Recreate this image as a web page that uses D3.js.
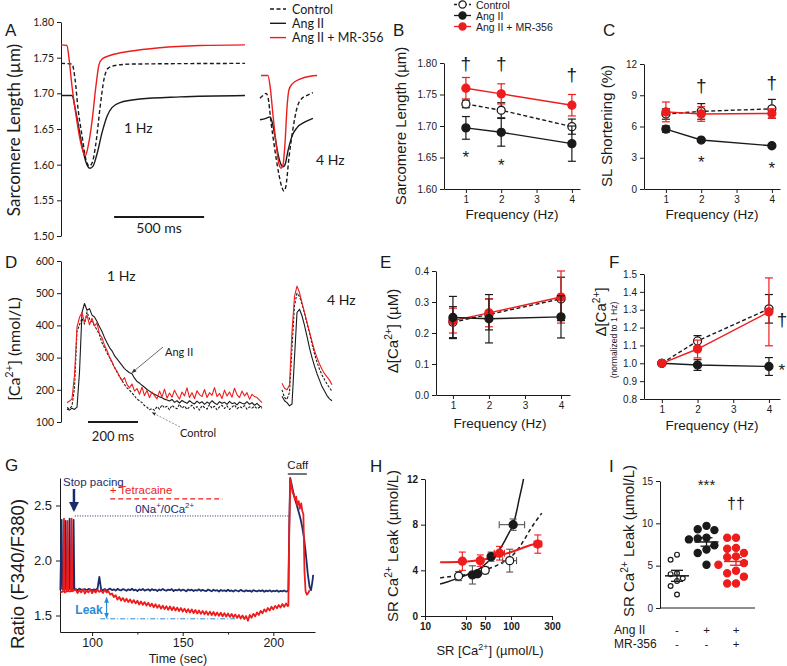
<!DOCTYPE html>
<html lang="en">
<head>
<meta charset="utf-8">
<title>Ang II / MR-356 figure</title>
<script src="https://cdn.jsdelivr.net/npm/d3@7"></script>
<style>
  body { margin: 0; background: #fff; }
  svg { font-family: "Liberation Sans", Arial, sans-serif; }
</style>
</head>
<body>
<script>
// ------------------------------------------------------------------
// data
// ------------------------------------------------------------------
var freqs = [1, 2, 4];
var freqTicks = [1, 2, 3, 4];

// A : sarcomere length traces [time ms, SL um]
var aCtrl1 = [[0,1.742],[61,1.741],[78,1.72],[94,1.68],[117,1.64],[139,1.607],[156,1.598],[172,1.602],[194,1.63],[217,1.68],[239,1.72],[261,1.735],[300,1.739],[383,1.741],[1022,1.742]];
var aAng1  = [[0,1.697],[61,1.697],[78,1.68],[100,1.65],[122,1.62],[144,1.60],[161,1.595],[178,1.598],[200,1.615],[228,1.645],[256,1.668],[283,1.68],[328,1.687],[439,1.692],[661,1.695],[1022,1.697]];
var aMR1   = [[0,1.768],[33,1.767],[44,1.75],[61,1.71],[83,1.67],[106,1.635],[128,1.615],[136,1.613],[150,1.625],[172,1.66],[194,1.71],[211,1.74],[228,1.748],[272,1.753],[383,1.759],[550,1.764],[772,1.767],[1022,1.768]];
var aCtrl4 = [[0,1.693],[22,1.698],[33,1.70],[44,1.695],[61,1.66],[83,1.62],[106,1.585],[122,1.568],[133,1.563],[144,1.57],[161,1.61],[183,1.65],[206,1.68],[233,1.693],[261,1.697],[294,1.701]];
var aAng4  = [[0,1.663],[33,1.665],[56,1.667],[67,1.66],[83,1.64],[100,1.615],[117,1.60],[128,1.597],[139,1.60],[156,1.62],[178,1.64],[206,1.652],[250,1.66],[294,1.665]];
var aMR4   = [[6,1.725],[44,1.725],[56,1.71],[72,1.67],[89,1.63],[106,1.60],[117,1.595],[128,1.60],[139,1.63],[150,1.68],[161,1.705],[178,1.713],[222,1.72],[278,1.724],[317,1.725]];
var aTicks = [1.50, 1.55, 1.60, 1.65, 1.70, 1.75, 1.80];

// B : diastolic sarcomere length (mean, sem)
var bCtrl = [1.735, 1.725, 1.699], bCtrlErr = [0.006, 0.012, 0.012];
var bAng  = [1.697, 1.690, 1.672], bAngErr  = [0.018, 0.022, 0.028];
var bMR   = [1.760, 1.751, 1.733], bMRErr   = [0.017, 0.016, 0.017];
var bTicks = [1.60, 1.65, 1.70, 1.75, 1.80];

// C : SL shortening (%)
var cCtrl = [7.2, 7.45, 7.7], cCtrlErr = [0.5, 0.75, 0.9];
var cAng  = [5.75, 4.7, 4.15], cAngErr = [0.3, 0.15, 0.15];
var cMR   = [7.4, 7.2, 7.25], cMRErr   = [0.95, 0.7, 0.45];
var cTicks = [0, 3, 6, 9, 12];

// D : calcium transients, nmol/L, one sample every 10 ms
var dStep = 10;
var dMR1 = [160,165,172,245,395,425,440,410,432,402, 422,398,408,372,362,338,322,302,288,268,
            258,242,228,238,216,206,218,196,204,186, 208,182,198,176,193,182,172,196,178,202,
            174,190,177,199,183,171,193,181,206,176, 191,173,197,185,179,201,176,191,183,207,
            179,189,173,199,181,193,177,205,185,176, 196,181,191,171,186,179,176,168,160];
var dAng1 = [140,137,143,139,146,255,440,468,447,452, 432,426,412,396,381,362,346,331,321,306,
             296,286,276,266,259,253,250,236,226,221, 214,208,201,196,190,186,182,178,175,171,
             168,165,170,161,166,159,167,162,158,166, 160,156,165,158,163,155,162,157,166,159,
             154,163,158,161,155,164,157,160,153,162, 158,156,163,155,160,152,158,150,146];
var dCtrl1 = [145,141,150,205,382,402,422,404,442,420, 412,399,386,371,346,331,314,301,284,271,
              255,241,229,216,206,199,190,181,171,166, 160,151,146,138,142,136,148,140,153,144,
              149,138,152,145,141,155,143,150,139,147, 152,141,148,137,151,145,140,154,143,149,
              138,147,152,142,150,139,146,153,141,148, 144,151,140,147,143,149,141,146,143];
var dMR4   = [220,205,200,215,380,490,522,502,470,440,410,380,350,322,300,280,264,250,240,230,216];
var dCtrl4 = [200,176,170,192,330,462,500,490,466,438,405,376,342,312,286,264,246,232,218,206,196];
var dAng4  = [180,166,160,150,156,300,440,450,430,400,366,330,300,274,250,230,210,196,182,172,166];
var dTicks = [100, 200, 300, 400, 500, 600];

// E : delta [Ca2+] (uM)
var eCtrl = [0.235, 0.26, 0.31], eCtrlErr = [0.05, 0.05, 0.07];
var eAng  = [0.25, 0.246, 0.252], eAngErr = [0.068, 0.078, 0.068];
var eMR   = [0.24, 0.265, 0.316], eMRErr  = [0.04, 0.045, 0.084];
var eTicks = [0.0, 0.1, 0.2, 0.3, 0.4];

// F : delta [Ca2+] normalised to 1 Hz
var fCtrl = [1.0, 1.125, 1.305], fCtrlErr = [0, 0.03, 0.08];
var fAng  = [1.0, 0.99, 0.982],  fAngErr  = [0, 0.03, 0.05];
var fMR   = [1.0, 1.08, 1.288],  fMRErr   = [0, 0.05, 0.19];
var fTicks = [0.8, 0.9, 1.0, 1.1, 1.2, 1.3, 1.4, 1.5];

// G : fura-2 ratio, pacing spikes, then 1 s samples from t=91 s, then caffeine
var gStart = 91;
var gBluePace = [[82.5,1.73],[83.2,2.37],[83.6,1.74],[85.0,1.74],[85.4,2.36],[85.8,1.74],[87.2,1.74],[87.6,2.38],[88.0,1.74],[89.4,1.74],[89.8,2.37],[90.2,1.74]];
var gRedPace  = [[82.5,1.71],[84.1,1.72],[84.5,2.38],[84.9,1.71],[86.1,1.72],[86.5,2.36],[86.9,1.72],[88.3,1.72],[88.7,2.38],[89.1,1.72]];
var gBlue = [1.74,1.73,1.745,1.735,1.73,1.74,1.728,1.742,1.735,1.73,
             1.738,1.732,1.745,1.85,1.735,1.73,1.742,1.728,1.737,1.745,
             1.73,1.738,1.726,1.742,1.733,1.728,1.74,1.735,1.725,1.738,
             1.73,1.743,1.728,1.735,1.722,1.738,1.73,1.742,1.727,1.733,
             1.738,1.725,1.74,1.73,1.735,1.722,1.737,1.728,1.742,1.73,
             1.725,1.736,1.73,1.74,1.722,1.733,1.728,1.738,1.725,1.735,
             1.73,1.72,1.737,1.728,1.735,1.722,1.732,1.726,1.738,1.724,
             1.733,1.727,1.722,1.736,1.728,1.72,1.735,1.725,1.73,1.718,
             1.732,1.724,1.729,1.72,1.734,1.722,1.728,1.718,1.731,1.725,
             1.72,1.733,1.724,1.718,1.73,1.722,1.727,1.716,1.731,1.723,
             1.719,1.728,1.722,1.73,1.716,1.726,1.72,1.729,1.717,1.725,
             1.72,1.728,1.716,1.724,1.719,1.727,1.718,1.722];
var gRed = [1.735,1.705,1.73,1.71,1.74,1.70,1.725,1.712,1.738,1.703,
            1.73,1.708,1.735,1.715,1.728,1.704,1.736,1.71,1.722,1.69,
            1.70,1.668,1.685,1.645,1.668,1.636,1.66,1.628,1.652,1.622,
            1.645,1.615,1.64,1.61,1.635,1.60,1.628,1.597,1.622,1.59,
            1.615,1.585,1.608,1.575,1.602,1.57,1.595,1.562,1.59,1.558,
            1.585,1.552,1.582,1.548,1.578,1.545,1.572,1.54,1.568,1.536,
            1.562,1.53,1.558,1.527,1.556,1.522,1.55,1.518,1.545,1.515,
            1.542,1.51,1.538,1.506,1.535,1.503,1.532,1.50,1.528,1.497,
            1.525,1.493,1.522,1.49,1.518,1.487,1.515,1.484,1.51,1.478,
            1.505,1.472,1.50,1.468,1.495,1.452,1.505,1.48,1.515,1.492,
            1.528,1.505,1.542,1.52,1.556,1.535,1.568,1.545,1.58,1.555,
            1.588,1.565,1.595,1.572,1.605,1.578,1.61,1.585];
var gBlueCaff = [[208.3,1.73],[208.8,2.3],[209.3,2.75],[210,2.7],[211,2.62],[212,2.56],[213,2.5],[214,2.44],[215,2.38],[216,2.3],[217,2.2],[218,2.05],[219,1.88],[220,1.76],[220.8,1.73],[221.5,1.8],[222,1.87]];
var gRedCaff  = [[208.3,1.59],[208.8,2.3],[209.4,2.74],[210,2.68],[210.6,2.62],[211.2,2.6],[212,2.55],[212.6,2.58],[213.2,2.5],[214,2.54],[214.6,2.47],[215.4,2.52],[216,2.45],[216.6,2.42],[217.2,1.9],[217.8,1.72],[218.5,1.69],[219.5,1.71],[220,1.73]];
var gTicks = [100, 150, 200], gMinor = [125, 175];
var gYTicks = [1.5, 2.0, 2.5];

// H : leak vs SR load  (x = SR [Ca2+] umol/L, y = leak umol/L)
var hCtrl = [{x:24.6,y:3.5,ey:0.4},{x:50.2,y:4.0,ey:0.3},{x:96.6,y:4.85,ey:1.0,xl:80,xh:116}];
var hAng  = [{x:35.6,y:3.6,ey:0.8},{x:40.8,y:3.7,ey:0.2},{x:58.7,y:5.2,ey:0.4},{x:106,y:8.0,ey:0.5,xl:73,xh:144}];
var hMR   = [{x:27.2,y:4.8,ey:0.8},{x:43.9,y:4.85,ey:0.5},{x:73.6,y:5.5,ey:0.6,xl:64,xh:84},{x:205,y:6.3,ey:0.8,xl:186,xh:228}];
var hFitCtrl = [[15,3.35],[20,3.45],[28,3.6],[38,3.8],[50,4.05],[65,4.35],[80,4.7],[95,5.0],[110,5.5],[125,6.0],[143,6.7],[165,7.5],[190,8.2],[228,9.0]];
var hFitAng  = [[15,2.8],[18.5,3.0],[24,3.3],[33,3.7],[44,4.2],[57,4.9],[72,5.7],[85,6.6],[95,7.3],[106,8.0],[115,9.0],[125,10.3],[133,11.2],[140,12.0]];
var hFitMR   = [[15,4.7],[27,4.75],[44,4.9],[60,5.1],[74,5.3],[100,5.6],[130,5.9],[160,6.15],[205,6.35],[230,6.45]];
var hXTicks = [10, 30, 50, 100, 300], hYTicks = [0, 4, 8, 12];

// I : SR Ca2+ leak per cell
var iCtrl = [6.3, 5.7, 4.1, 4.0, 3.5, 3.2, 2.6, 1.6];
var iAng  = [9.7, 9.3, 9.2, 8.3, 8.2, 8.1, 7.4, 6.9, 6.5, 5.1];
var iMR   = [8.3, 8.3, 7.1, 7.0, 6.5, 6.1, 6.0, 5.3, 5.1, 4.4, 4.1, 3.7, 2.9, 2.9];
var iMean = [3.8, 7.8, 5.5], iSem = [0.65, 0.5, 0.45];
var iAngRow = ["-", "+", "+"], iMRRow = ["-", "-", "+"];
var iTicks = [0, 5, 10, 15];

// ------------------------------------------------------------------
var RED = "#ee1d1d", NAVY = "#1c2c6a", LEAK = "#2b8ad6", INK = "#1a1a1a";
var CAL = "Lato, 'Open Sans', sans-serif";
var svg = d3.select("body").append("svg").attr("width", 787).attr("height", 666);

function txt(x, y, s, size, opt) {
  opt = opt || {};
  var t = svg.append("text").attr("x", x).attr("y", y).text(s)
    .attr("font-size", size).attr("fill", opt.fill || INK)
    .attr("text-anchor", opt.anchor || "start");
  if (opt.family) t.attr("font-family", opt.family);
  if (opt.weight) t.attr("font-weight", opt.weight);
  return t;
}
// text with superscripts: parts = [[str, isSup], ...]
function rich(x, y, parts, size, opt) {
  opt = opt || {};
  var t = svg.append("text").attr("font-size", size).attr("fill", opt.fill || INK)
    .attr("text-anchor", opt.anchor || "middle");
  if (opt.family) t.attr("font-family", opt.family);
  if (opt.rotate) t.attr("transform", "translate(" + x + "," + y + ") rotate(-90)");
  else t.attr("transform", "translate(" + x + "," + y + ")");
  var up = 0;
  parts.forEach(function (p) {
    var ts = t.append("tspan").text(p[0]);
    if (p[1]) { ts.attr("font-size", size * 0.68).attr("dy", -size * 0.42); up = 1; }
    else if (up) { ts.attr("dy", size * 0.42); up = 0; }
  });
  return t;
}
function styleAxis(g, size, family, weight) {
  g.attr("font-size", size).attr("font-family", family || "'Liberation Sans', Arial, sans-serif");
  g.selectAll("text").attr("fill", INK);
  if (weight) g.selectAll("text").attr("font-weight", weight);
  g.selectAll("path, line").attr("stroke", INK).attr("stroke-width", 1);
}
function trace(data, xs, ys, color, dash, w, curve) {
  svg.append("path").datum(data)
    .attr("d", d3.line().x(function (d) { return xs(d[0]); }).y(function (d) { return ys(d[1]); }).curve(curve || d3.curveLinear))
    .attr("fill", "none").attr("stroke", color).attr("stroke-width", w)
    .attr("stroke-dasharray", dash || null).attr("stroke-linejoin", "round");
}

svg.append("defs").html(
  '<marker id="ah" viewBox="0 0 10 10" refX="9" refY="5" markerWidth="6" markerHeight="6" orient="auto"><path d="M0,1 L10,5 L0,9 z" fill="#333"/></marker>' +
  '<marker id="nv" viewBox="0 0 10 10" refX="8" refY="5" markerWidth="4" markerHeight="4" orient="auto"><path d="M0,0 L10,5 L0,10 z" fill="' + NAVY + '"/></marker>' +
  '<marker id="lk" viewBox="0 0 10 10" refX="9" refY="5" markerWidth="5" markerHeight="5" orient="auto-start-reverse"><path d="M0,1 L10,5 L0,9 z" fill="' + LEAK + '"/></marker>');

// ------------------------------------------------------------------
// A : sarcomere length traces
var yA = d3.scaleLinear().domain([1.50, 1.80]).range([236, 22]);
var xA1 = d3.scaleLinear().domain([0, 1000]).range([61, 241]);
var xA4 = d3.scaleLinear().domain([0, 1000]).range([260, 440]);
styleAxis(svg.append("g").attr("transform", "translate(61,0)")
  .call(d3.axisLeft(yA).tickValues(aTicks).tickFormat(d3.format(".2f")).tickSize(4).tickSizeOuter(0)), 10.5, CAL);

trace(aAng1, xA1, yA, INK, null, 1.4, d3.curveMonotoneX);
trace(aCtrl1, xA1, yA, INK, "4,2.5", 1.4, d3.curveMonotoneX);
trace(aMR1, xA1, yA, RED, null, 1.4, d3.curveMonotoneX);
trace(aAng4, xA4, yA, INK, null, 1.4, d3.curveMonotoneX);
trace(aCtrl4, xA4, yA, INK, "4,2.5", 1.4, d3.curveMonotoneX);
trace(aMR4, xA4, yA, RED, null, 1.4, d3.curveMonotoneX);

txt(5, 36, "A", 17);
rich(20, 130, [["Sarcomere Length (\u00b5m)"]], 17, { rotate: true, family: CAL });
txt(124, 133, "1 Hz", 14, { family: CAL });
txt(316, 165, "4 Hz", 14, { family: CAL });
svg.append("line").attr("x1", xA1(295)).attr("x2", xA1(795)).attr("y1", 217).attr("y2", 217)
  .attr("stroke", INK).attr("stroke-width", 2);
txt(xA1(545), 233, "500 ms", 14, { family: CAL, anchor: "middle" });
// legend A
[["Control", INK, "4,2.5"], ["Ang II", INK, null], ["Ang II + MR-356", RED, null]].forEach(function (l, i) {
  var y = 9 + i * 14.3;
  svg.append("line").attr("x1", 270).attr("x2", 286).attr("y1", y).attr("y2", y)
    .attr("stroke", l[1]).attr("stroke-width", 1.4).attr("stroke-dasharray", l[2]);
  txt(292, y + 4.5, l[0], 12.5, { family: CAL });
});

// ------------------------------------------------------------------
// frequency panels B, C, E, F
function freqPanel(p) {
  var x = d3.scaleLinear().domain(p.xd).range(p.xr);
  var y = d3.scaleLinear().domain(p.yd).range(p.yr);
  styleAxis(svg.append("g").attr("transform", "translate(0," + p.yr[0] + ")")
    .call(d3.axisBottom(x).tickValues(freqTicks).tickFormat(d3.format("d")).tickSize(4).tickSizeOuter(0).tickPadding(3)), 10);
  styleAxis(svg.append("g").attr("transform", "translate(" + p.xr[0] + ",0)")
    .call(d3.axisLeft(y).tickValues(p.ticks).tickFormat(d3.format(p.fmt)).tickSize(4).tickSizeOuter(0).tickPadding(3)), 10);
  p.series.forEach(function (s) {
    var pts = freqs.map(function (f, i) { return [f, s.v[i], s.e[i]]; });
    svg.append("path").datum(pts)
      .attr("d", d3.line().x(function (d) { return x(d[0]); }).y(function (d) { return y(d[1]); }))
      .attr("fill", "none").attr("stroke", s.c).attr("stroke-width", 1.4).attr("stroke-dasharray", s.dash || null);
    pts.forEach(function (d) {
      if (d[2] > 0) {
        var cx = x(d[0]), y1 = y(d[1] + d[2]), y2 = y(d[1] - d[2]);
        svg.append("line").attr("x1", cx).attr("x2", cx).attr("y1", y1).attr("y2", y2).attr("stroke", s.c).attr("stroke-width", 1.2);
        [y1, y2].forEach(function (yy) {
          svg.append("line").attr("x1", cx - 4).attr("x2", cx + 4).attr("y1", yy).attr("y2", yy).attr("stroke", s.c).attr("stroke-width", 1.2);
        });
      }
      svg.append("circle").attr("cx", x(d[0])).attr("cy", y(d[1])).attr("r", 4)
        .attr("fill", s.open ? "#fff" : s.c).attr("stroke", s.c).attr("stroke-width", 1.3);
    });
  });
  (p.marks || []).forEach(function (m) {
    txt(x(m[0]) + (m[3] || 0), m[1], m[2], m[2] === "*" ? 17 : 19, { anchor: "middle" });
  });
  return { x: x, y: y };
}
function trio(ctrl, ctrlE, ang, angE, mr, mrE) {
  return [
    { v: ctrl, e: ctrlE, c: INK, dash: "4,2.5", open: true },
    { v: ang, e: angE, c: INK },
    { v: mr, e: mrE, c: RED }
  ];
}

freqPanel({ xd: [0.38, 4.23], xr: [444, 580], yd: [1.60, 1.80], yr: [189, 63], ticks: bTicks, fmt: ".2f",
  series: trio(bCtrl, bCtrlErr, bAng, bAngErr, bMR, bMRErr),
  marks: [[1, 70, "\u2020"], [2, 70, "\u2020"], [4, 81, "\u2020"], [1, 163, "*"], [2, 171, "*"]] });
txt(393, 36, "B", 17);
rich(406, 126, [["Sarcomere Length (\u00b5m)"]], 15, { rotate: true });
txt(512, 219, "Frequency (Hz)", 13.5, { anchor: "middle" });
// legend B
[["Control", INK, "3,2", true], ["Ang II", INK, null, false], ["Ang II + MR-356", RED, null, false]].forEach(function (l, i) {
  var y = 4.5 + i * 11;
  svg.append("line").attr("x1", 454).attr("x2", 471).attr("y1", y).attr("y2", y)
    .attr("stroke", l[1]).attr("stroke-width", 1.3).attr("stroke-dasharray", l[2]);
  svg.append("circle").attr("cx", 462.5).attr("cy", y).attr("r", 3.6)
    .attr("fill", l[3] ? "#fff" : l[1]).attr("stroke", l[1]).attr("stroke-width", 1.2);
  txt(476, y + 4, l[0], 10.5);
});

freqPanel({ xd: [0.38, 4.23], xr: [644, 780], yd: [0, 12], yr: [189, 64], ticks: cTicks, fmt: "d",
  series: trio(cCtrl, cCtrlErr, cAng, cAngErr, cMR, cMRErr),
  marks: [[2, 92, "\u2020"], [4, 89, "\u2020"], [2, 168, "*"], [4, 174, "*"]] });
txt(603, 36, "C", 17);
rich(612, 126, [["SL Shortening (%)"]], 15, { rotate: true });
txt(712, 219, "Frequency (Hz)", 13.5, { anchor: "middle" });

var eSeries = trio(eCtrl, eCtrlErr, eMR, eMRErr, eAng, eAngErr);
eSeries[1].c = RED; eSeries[2].c = INK;
freqPanel({ xd: [0.53, 4.25], xr: [436, 570], yd: [0, 0.4], yr: [395, 271], ticks: eTicks, fmt: ".1f",
  series: eSeries });
txt(380, 268, "E", 17);
rich(398, 331, [["\u0394[Ca"], ["2+", 1], ["] (\u00b5M)"]], 15, { rotate: true });
txt(500, 428, "Frequency (Hz)", 13.5, { anchor: "middle" });

freqPanel({ xd: [0.5, 4.31], xr: [644, 780], yd: [0.8, 1.5], yr: [399, 274], ticks: fTicks, fmt: ".1f",
  series: trio(fCtrl, fCtrlErr, fAng, fAngErr, fMR, fMRErr),
  marks: [[4, 326, "\u2020", 13], [4, 376, "*", 13]] });
txt(609, 268, "F", 17);
rich(606, 312, [["\u0394[Ca"], ["2+", 1], ["]"]], 15, { rotate: true });
rich(617, 340, [["(normalized to 1 Hz)"]], 8.5, { rotate: true });
txt(712, 430, "Frequency (Hz)", 13.5, { anchor: "middle" });

// ------------------------------------------------------------------
// D : calcium transients
var yD = d3.scaleLinear().domain([100, 600]).range([422, 261]);
var xD1 = d3.scaleLinear().domain([0, 1000]).range([67, 317]);
var xD4 = d3.scaleLinear().domain([0, 1000]).range([282, 532]);
styleAxis(svg.append("g").attr("transform", "translate(61,0)")
  .call(d3.axisLeft(yD).tickValues(dTicks).tickSize(4).tickSizeOuter(0)), 10.5, CAL);
function idx(arr) { return arr.map(function (v, i) { return [i * dStep, v]; }); }
trace(idx(dCtrl1), xD1, yD, INK, "2.5,1.5", 1.1);
trace(idx(dAng1), xD1, yD, INK, null, 1.1);
trace(idx(dMR1), xD1, yD, RED, null, 1.1);
trace(idx(dCtrl4), xD4, yD, INK, "2.5,1.5", 1.1);
trace(idx(dAng4), xD4, yD, INK, null, 1.1);
trace(idx(dMR4), xD4, yD, RED, null, 1.1);
txt(5, 268, "D", 17);
rich(20, 349, [["[Ca"], ["2+", 1], ["] (nmol/L)"]], 16, { rotate: true, family: CAL });
txt(107, 281, "1 Hz", 14, { family: CAL });
txt(327, 305, "4 Hz", 14, { family: CAL });
svg.append("line").attr("x1", xD1(84)).attr("x2", xD1(284)).attr("y1", 422).attr("y2", 422)
  .attr("stroke", INK).attr("stroke-width", 2);
txt(xD1(184), 441, "200 ms", 13, { family: CAL, anchor: "middle" });
txt(165, 356, "Ang II", 11, { family: CAL });
txt(180, 437, "Control", 11, { family: CAL });
svg.append("line").attr("x1", 163).attr("y1", 347).attr("x2", xD1(260)).attr("y2", yD(dAng1[26]) - 1)
  .attr("stroke", "#444").attr("stroke-width", 0.8).attr("marker-end", "url(#ah)");
svg.append("line").attr("x1", 180).attr("y1", 427).attr("x2", xD1(340)).attr("y2", yD(dCtrl1[34]) + 4)
  .attr("stroke", "#666").attr("stroke-width", 0.7).attr("stroke-dasharray", "2,1.5").attr("marker-end", "url(#ah)");

// ------------------------------------------------------------------
// G : leak protocol
var xG = d3.scaleLinear().domain([82.3, 223]).range([60, 315]);
var yG = d3.scaleLinear().domain([1.35, 2.75]).range([632, 478]);
styleAxis(svg.append("g").attr("transform", "translate(0,632)")
  .call(d3.axisBottom(xG).tickValues(gTicks).tickSize(4).tickSizeOuter(0).tickPadding(2)), 12.5);
svg.append("g").attr("transform", "translate(0,632)")
  .call(d3.axisBottom(xG).tickValues(gMinor).tickSize(2.5).tickFormat(""))
  .call(function (g) { g.select(".domain").remove(); g.selectAll("line").attr("stroke", INK); });
styleAxis(svg.append("g").attr("transform", "translate(60,0)")
  .call(d3.axisLeft(yG).tickValues(gYTicks).tickFormat(d3.format(".1f")).tickSize(4).tickSizeOuter(0).tickPadding(4)), 13);
var seq = function (arr) { return arr.map(function (v, i) { return [gStart + i, v]; }); };
trace(gBluePace.concat(seq(gBlue), gBlueCaff), xG, yG, NAVY, null, 1.8);
trace(gRedPace.concat(seq(gRed), gRedCaff), xG, yG, RED, null, 1.8);
txt(5, 471, "G", 17);
rich(24, 574, [["Ratio (F340/F380)"]], 18.5, { rotate: true });
txt(178, 662.5, "Time (sec)", 12.5, { anchor: "middle" });
txt(63, 486, "Stop pacing", 11.5, { fill: NAVY });
svg.append("line").attr("x1", xG(90)).attr("x2", xG(90)).attr("y1", 489).attr("y2", 510)
  .attr("stroke", NAVY).attr("stroke-width", 2.5).attr("marker-end", "url(#nv)");
txt(xG(127), 494, "+ Tetracaine", 11.5, { fill: RED, anchor: "middle" });
svg.append("line").attr("x1", xG(110)).attr("x2", xG(172)).attr("y1", yG(2.56)).attr("y2", yG(2.56))
  .attr("stroke", RED).attr("stroke-width", 1.2).attr("stroke-dasharray", "5,3");
rich(xG(140), 513, [["0Na"], ["+", 1], ["/0Ca"], ["2+", 1]], 11.5, { fill: NAVY });
svg.append("line").attr("x1", xG(90.5)).attr("x2", xG(208.5)).attr("y1", yG(2.405)).attr("y2", yG(2.405))
  .attr("stroke", NAVY).attr("stroke-width", 1).attr("stroke-dasharray", "1,1.5");
svg.append("line").attr("x1", xG(104.5)).attr("x2", xG(179)).attr("y1", yG(1.47)).attr("y2", yG(1.47))
  .attr("stroke", LEAK).attr("stroke-width", 1).attr("stroke-dasharray", "5,2,1,2");
svg.append("line").attr("x1", xG(108)).attr("x2", xG(108)).attr("y1", yG(1.665)).attr("y2", yG(1.475))
  .attr("stroke", LEAK).attr("stroke-width", 1.2).attr("marker-start", "url(#lk)").attr("marker-end", "url(#lk)");
txt(89, 614, "Leak", 12, { fill: LEAK, anchor: "middle", weight: "bold" });
txt(xG(213.5), 469, "Caff", 11.5, { anchor: "middle" });
svg.append("line").attr("x1", xG(208)).attr("x2", xG(218.5)).attr("y1", 474).attr("y2", 474)
  .attr("stroke", INK).attr("stroke-width", 1.2);

// ------------------------------------------------------------------
// H : leak / load relationship
var xH = d3.scaleLog().domain([10, 300]).range([425, 552]);
var yH = d3.scaleLinear().domain([0, 12]).range([616, 479]);
styleAxis(svg.append("g").attr("transform", "translate(0,616)")
  .call(d3.axisBottom(xH).tickValues(hXTicks).tickFormat(d3.format("d")).tickSize(4).tickSizeOuter(0).tickPadding(3)), 10, null, "bold");
styleAxis(svg.append("g").attr("transform", "translate(425,0)")
  .call(d3.axisLeft(yH).tickValues(hYTicks).tickSize(4).tickSizeOuter(0).tickPadding(3)), 10, null, "bold");
trace(hFitAng, xH, yH, INK, null, 1.5, d3.curveMonotoneX);
trace(hFitCtrl, xH, yH, INK, "4,3", 1.5, d3.curveMonotoneX);
trace(hFitMR, xH, yH, RED, null, 2, d3.curveMonotoneX);
function hPoints(pts, c, open) {
  var ec = c === RED ? RED : "#555";
  pts.forEach(function (d) {
    var cx = xH(d.x), cy = yH(d.y);
    var seg = function (x1, y1, x2, y2) {
      svg.append("line").attr("x1", x1).attr("x2", x2).attr("y1", y1).attr("y2", y2).attr("stroke", ec).attr("stroke-width", 1.1);
    };
    seg(cx, yH(d.y + d.ey), cx, yH(d.y - d.ey));
    seg(cx - 3.5, yH(d.y + d.ey), cx + 3.5, yH(d.y + d.ey));
    seg(cx - 3.5, yH(d.y - d.ey), cx + 3.5, yH(d.y - d.ey));
    if (d.xl) {
      seg(xH(d.xl), cy, xH(d.xh), cy);
      seg(xH(d.xl), cy - 3.5, xH(d.xl), cy + 3.5);
      seg(xH(d.xh), cy - 3.5, xH(d.xh), cy + 3.5);
    }
    svg.append("circle").attr("cx", cx).attr("cy", cy).attr("r", 4)
      .attr("fill", open ? "#fff" : c).attr("stroke", c).attr("stroke-width", 1.3);
  });
}
hPoints(hAng, INK, false);
hPoints(hCtrl, INK, true);
hPoints(hMR, RED, false);
txt(370, 472, "H", 17);
rich(398, 546, [["SR Ca"], ["2+", 1], [" Leak (\u00b5mol/L)"]], 15, { rotate: true });
rich(490, 655, [["SR [Ca"], ["2+", 1], ["] (\u00b5mol/L)"]], 13, {});

// ------------------------------------------------------------------
// I : scatter of leak per cell
var yI = d3.scaleLinear().domain([0, 15]).range([608, 481]);
var xI = d3.scalePoint().domain(["ctrl", "ang", "mr"]).range([677, 736]);
styleAxis(svg.append("g").attr("transform", "translate(660,0)")
  .call(d3.axisLeft(yI).tickValues(iTicks).tickSize(4).tickSizeOuter(0).tickPadding(3)), 10);
svg.append("line").attr("x1", 660).attr("x2", 755).attr("y1", 608).attr("y2", 608).attr("stroke", INK);
function swarm(vals, cx, r) {
  var placed = [];
  return vals.map(function (v) {
    var py = yI(v), offs = [0, -1, 1, -2, 2, -3, 3], px = cx;
    for (var k = 0; k < offs.length; k++) {
      var cand = cx + offs[k] * (r * 2 + 1.6) * (k % 2 ? 1 : 0.9);
      var ok = placed.every(function (p) { return Math.hypot(p[0] - cand, p[1] - py) >= 2 * r + 1; });
      if (ok) { px = cand; break; }
    }
    placed.push([px, py]);
    return [px, py];
  });
}
[["ctrl", iCtrl, INK, true, 2.4], ["ang", iAng, INK, false, 3.6], ["mr", iMR, RED, false, 3.6]].forEach(function (g, gi) {
  var cx = xI(g[0]);
  swarm(g[1], cx, g[4]).forEach(function (p) {
    svg.append("circle").attr("cx", p[0]).attr("cy", p[1]).attr("r", g[4])
      .attr("fill", g[3] ? "#fff" : g[2]).attr("stroke", g[2]).attr("stroke-width", 1.2);
  });
  var m = iMean[gi], s = iSem[gi];
  svg.append("line").attr("x1", cx - 12).attr("x2", cx + 12).attr("y1", yI(m)).attr("y2", yI(m)).attr("stroke", g[2]).attr("stroke-width", 1.5);
  svg.append("line").attr("x1", cx).attr("x2", cx).attr("y1", yI(m + s)).attr("y2", yI(m - s)).attr("stroke", g[2]).attr("stroke-width", 1.3);
  [m + s, m - s].forEach(function (v) {
    svg.append("line").attr("x1", cx - 6).attr("x2", cx + 6).attr("y1", yI(v)).attr("y2", yI(v)).attr("stroke", g[2]).attr("stroke-width", 1.3);
  });
  txt(cx, 634, iAngRow[gi], 11.5, { anchor: "middle" });
  txt(cx, 648, iMRRow[gi], 11.5, { anchor: "middle" });
});
txt(xI("ang"), 490, "***", 15, { anchor: "middle" });
txt(xI("mr"), 509, "\u2020\u2020", 16, { anchor: "middle" });
txt(609, 472, "I", 17);
rich(634, 541, [["SR Ca"], ["2+", 1], [" Leak (\u00b5mol/L)"]], 15, { rotate: true });
txt(614, 634, "Ang II", 12);
txt(614, 648, "MR-356", 12);
</script>
</body>
</html>
